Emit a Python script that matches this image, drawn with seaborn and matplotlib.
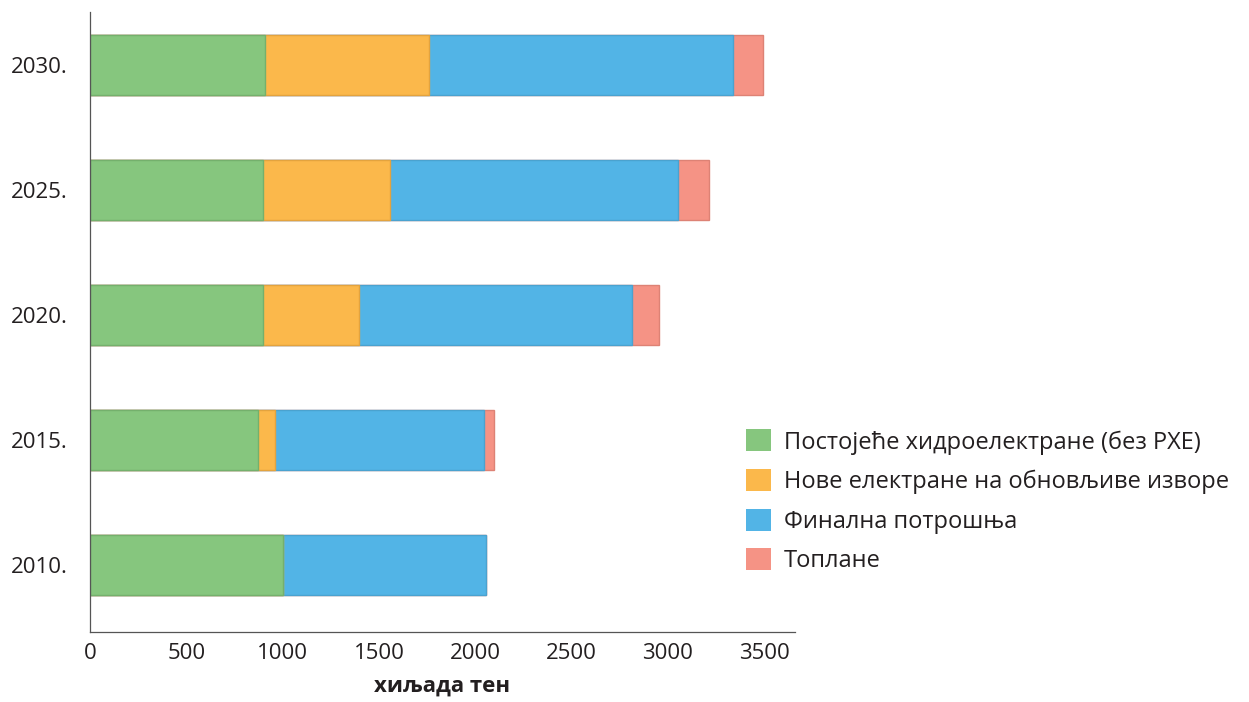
import matplotlib
matplotlib.use("Agg")
import matplotlib.pyplot as plt
import seaborn as sns
import pandas as pd
import numpy as np
from matplotlib.patches import Patch

years = ["2030.", "2025.", "2020.", "2015.", "2010."]
series_names = ["Постојеће хидроелектране (без РХЕ)",
                "Нове електране на обновљиве изворе",
                "Финална потрошња",
                "Топлане"]
hydro = [910, 900, 900, 874, 1004]
renew = [848, 660, 499, 88, 0]
final = [1580, 1492, 1414, 1082, 1050]
heat = [156, 162, 141, 52, 0]
colors = ["#86C67E", "#FBB84B", "#52B4E6", "#F59385"]
edges = ["#74B06C", "#E3A33E", "#4AA2CF", "#DD8275"]
xticks = [0, 500, 1000, 1500, 2000, 2500, 3000, 3500]

sns.set_theme(style="white")
plt.rcParams["font.family"] = ["Open Sans", "DejaVu Sans"]

df = pd.DataFrame({"year": years, "s0": hydro, "s1": renew, "s2": final, "s3": heat})
cum = np.cumsum(df[["s0", "s1", "s2", "s3"]].values, axis=1)
for i in range(4):
    df[f"c{i}"] = cum[:, i]

fig = plt.figure(figsize=(12.49, 7.02), dpi=100)
ax = fig.add_axes([0.072, 0.0997, 0.5645, 0.8833])

for i in reversed(range(4)):
    sns.barplot(data=df, x=f"c{i}", y="year", order=years, orient="h",
                color=colors[i], edgecolor=edges[i], linewidth=1.0,
                width=0.475, saturation=1, ax=ax)

ax.set_xlim(0, 3660)
ax.set_ylim(4.536, -0.424)
ax.set_xticks(xticks)
ax.set_xticklabels([str(t) for t in xticks])
ax.tick_params(axis="x", direction="in", length=14, width=0.8, color="#555555",
               labelsize=16, pad=8, labelcolor="#231F20")
ax.tick_params(axis="y", length=0, labelsize=16, pad=16, labelcolor="#231F20")
for s in ["top", "right"]:
    ax.spines[s].set_visible(False)
for s in ["left", "bottom"]:
    ax.spines[s].set_color("#555555")
    ax.spines[s].set_linewidth(0.9)
ax.set_ylabel("")
ax.set_xlabel("хиљада тен", fontsize=16, fontweight="bold", color="#231F20", labelpad=8)

handles = [Patch(facecolor=c, edgecolor="none") for c in colors]
fig.legend(handles, series_names, loc="upper left", bbox_to_anchor=(0.588, 0.405),
           frameon=False, fontsize=17, handlelength=1.05, handleheight=1.05,
           handletextpad=0.55, labelspacing=0.62, borderpad=0, labelcolor="#231F20")

fig.savefig("out.png", dpi=100)
